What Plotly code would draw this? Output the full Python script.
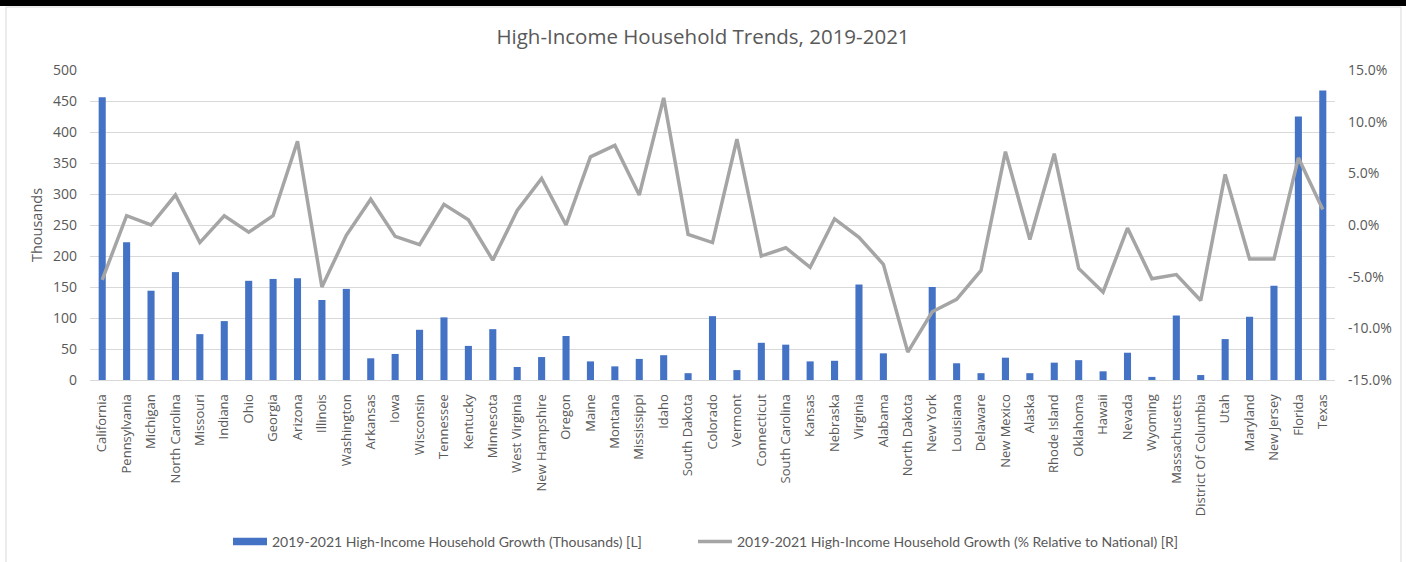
import plotly.graph_objects as go

states = [
    "California", "Pennsylvania", "Michigan", "North Carolina", "Missouri", "Indiana",
    "Ohio", "Georgia", "Arizona", "Illinois", "Washington", "Arkansas", "Iowa",
    "Wisconsin", "Tennessee", "Kentucky", "Minnesota", "West Virginia", "New Hampshire",
    "Oregon", "Maine", "Montana", "Mississippi", "Idaho", "South Dakota", "Colorado",
    "Vermont", "Connecticut", "South Carolina", "Kansas", "Nebraska", "Virginia",
    "Alabama", "North Dakota", "New York", "Louisiana", "Delaware", "New Mexico",
    "Alaska", "Rhode Island", "Oklahoma", "Hawaii", "Nevada", "Wyoming",
    "Massachusetts", "District Of Columbia", "Utah", "Maryland", "New Jersey",
    "Florida", "Texas",
]

growth_thousands = [
    456, 222, 144, 174, 74, 95,
    160, 163, 164, 129, 147, 35, 42,
    81, 101, 55, 82, 21, 37,
    71, 30, 22, 34, 40, 11, 103,
    16, 60, 57, 30, 31, 154,
    43, 0, 150, 27, 11, 36,
    11, 28, 32, 14, 44, 5,
    104, 8, 66, 102, 152,
    425, 467,
]

growth_pct_vs_national = [
    -5.3, 0.9, 0.0, 2.9, -1.7, 0.9,
    -0.7, 0.9, 8.1, -6.0, -1.0, 2.5, -1.1,
    -1.9, 2.0, 0.5, -3.4, 1.4, 4.5,
    0.0, 6.6, 7.7, 2.9, 12.3, -0.9, -1.7,
    8.3, -3.0, -2.2, -4.1, 0.6, -1.2,
    -3.8, -12.3, -8.4, -7.2, -4.4, 7.1,
    -1.4, 6.9, -4.2, -6.5, -0.3, -5.2,
    -4.8, -7.3, 4.9, -3.3, -3.3,
    6.5, 1.5,
]

left_ticks = [0, 50, 100, 150, 200, 250, 300, 350, 400, 450, 500]
right_ticks = [-15, -10, -5, 0, 5, 10, 15]

BAR_NAME = "2019-2021 High-Income Household Growth (Thousands) [L]"
LINE_NAME = "2019-2021 High-Income Household Growth (% Relative to National) [R]"

FONT = "'Open Sans', sans-serif"
LEGEND_FONT = "Lato, sans-serif"
TEXT_GREY = "#595959"
GRID = "#d9d9d9"
BAR_BLUE = "#4472c4"
LINE_GREY = "#a5a5a5"

fig = go.Figure()

fig.add_trace(go.Bar(
    x=states,
    y=growth_thousands,
    name=BAR_NAME,
    marker=dict(color=BAR_BLUE, line=dict(width=0)),
    showlegend=False,
    yaxis="y",
))

fig.add_trace(go.Scatter(
    x=states,
    y=growth_pct_vs_national,
    name=LINE_NAME,
    mode="lines",
    line=dict(color=LINE_GREY, width=3.5),
    showlegend=False,
    yaxis="y2",
))

# legend keys: a wide flat swatch for the bars and a line for the percentage series,
# each in its own legend box so the gap between them can be set freely
fig.add_trace(go.Scatter(
    x=[None], y=[None], mode="lines", name=BAR_NAME,
    line=dict(color=BAR_BLUE, width=7.5), showlegend=True, legend="legend",
))
fig.add_trace(go.Scatter(
    x=[None], y=[None], mode="lines", name=LINE_NAME,
    line=dict(color=LINE_GREY, width=3.5), showlegend=True, yaxis="y2", legend="legend2",
))

legend_style = dict(
    orientation="h",
    xanchor="left",
    y=-0.522, yanchor="middle",
    font=dict(family=LEGEND_FONT, size=14, color=TEXT_GREY),
    itemwidth=34,
    bgcolor="rgba(0,0,0,0)",
)

fig.update_layout(
    width=1406,
    height=562,
    margin=dict(l=90, r=71, t=70, b=182, autoexpand=False),
    paper_bgcolor="white",
    plot_bgcolor="white",
    font=dict(family=FONT, color=TEXT_GREY, size=13),
    title=dict(
        text="High-Income Household Trends, 2019-2021",
        x=0.5, xanchor="center",
        y=1 - 37 / 562, yanchor="middle",
        font=dict(family=FONT, size=20.5, color=TEXT_GREY),
    ),
    bargap=0.71,
    showlegend=True,
    legend=dict(legend_style, x=(228 - 90) / 1245),
    legend2=dict(legend_style, x=(693 - 90) / 1245),
    xaxis=dict(
        type="category",
        tickangle=-90,
        tickfont=dict(family=FONT, size=13, color=TEXT_GREY),
        showgrid=False,
        showline=True,
        linecolor=GRID,
        linewidth=1,
        ticks="",
        ticklabelstandoff=8,
        automargin=False,
        range=[-0.5, len(states) - 0.5],
    ),
    yaxis=dict(
        range=[0, 500],
        tickvals=left_ticks,
        ticktext=[str(v) for v in left_ticks],
        showgrid=True,
        gridcolor=GRID,
        gridwidth=1,
        zeroline=False,
        ticks="",
        ticklabelstandoff=12,
        automargin=False,
        tickfont=dict(family=FONT, size=14, color=TEXT_GREY),
        title=dict(text="Thousands", font=dict(family=FONT, size=14.5, color=TEXT_GREY), standoff=6),
    ),
    yaxis2=dict(
        range=[-15, 15],
        overlaying="y",
        side="right",
        tickvals=right_ticks,
        ticktext=[f"{v:.1f}%" for v in right_ticks],
        showgrid=False,
        zeroline=False,
        ticks="",
        ticklabelstandoff=12,
        automargin=False,
        tickfont=dict(family=FONT, size=14, color=TEXT_GREY),
    ),
    shapes=[
        # thin frame around the chart area (its lower edge runs past the page)
        dict(type="rect", xref="paper", yref="paper",
             x0=-84 / 1245, x1=1311 / 1245, y0=-200 / 310, y1=1 + 63 / 310,
             line=dict(color="#d9d9d9", width=1), layer="below"),
        # heavy black rule along the top edge
        dict(type="rect", xref="paper", yref="paper",
             x0=-90 / 1245, x1=1316 / 1245, y0=1 + 64 / 310, y1=1 + 71 / 310,
             fillcolor="black", line=dict(width=0)),
    ],
)

fig.write_html("out.html")
